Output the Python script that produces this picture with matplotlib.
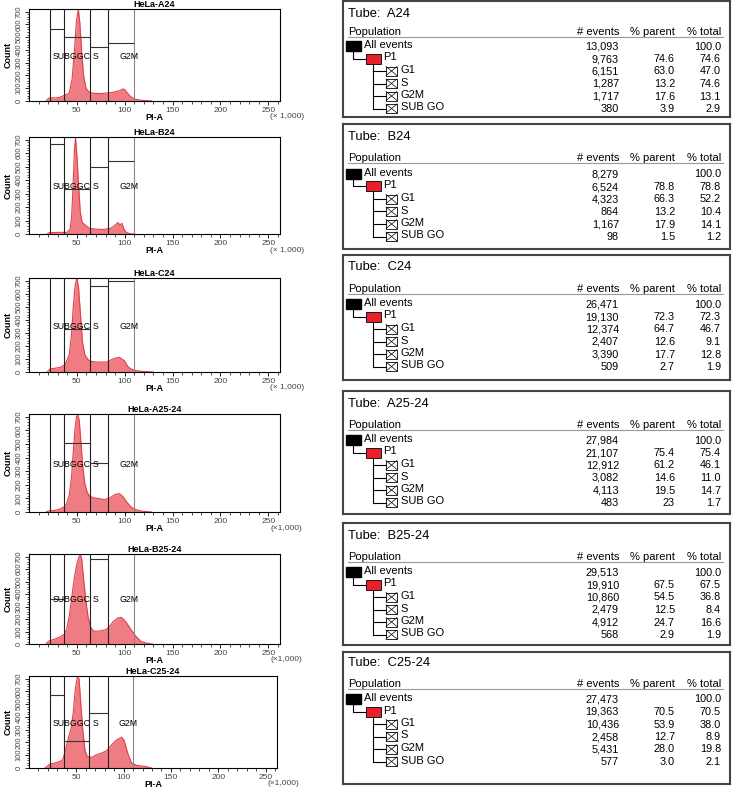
import numpy as np
import matplotlib.pyplot as plt
from matplotlib.patches import Rectangle

plt.rcParams['font.family'] = ['Liberation Sans', 'DejaVu Sans']

# ---- histogram data (PI-A x1000, count) ----
a24_x = [18, 20, 22, 27, 32, 35, 38, 42, 45, 47.5, 49.5, 51.5, 53, 55, 57, 59.5, 63, 68, 75, 80, 85, 90, 95, 98, 100, 103, 106, 110, 115, 120, 128]
a24_y = [0, 18, 25, 24, 28, 38, 48, 62, 170, 400, 620, 720, 620, 380, 200, 100, 68, 60, 58, 62, 65, 72, 82, 95, 88, 60, 35, 15, 8, 4, 0]

b24_x = [19, 21, 30, 40, 43, 44.5, 46, 47.5, 48.6, 50, 52, 53.5, 55.5, 59.5, 63, 70, 78, 85, 88, 91, 93, 95, 97, 99.5, 102, 106, 110]
b24_y = [0, 10, 12, 12, 40, 120, 360, 630, 715, 585, 340, 165, 86, 62, 42, 36, 34, 42, 55, 72, 86, 66, 80, 30, 10, 2, 0]

c24_x = [19, 22, 32.4, 37.6, 42, 44.4, 46.1, 48.2, 50, 51.7, 53.8, 55.8, 58.3, 61.7, 65.2, 72, 80.7, 85.9, 90.4, 94.5, 99.7, 103, 106.5, 111.7, 120, 130]
c24_y = [0, 23, 35, 56, 132, 284, 487, 665, 720, 652, 436, 233, 132, 94, 81, 76, 76, 94, 107, 112, 86, 43, 23, 10, 4, 0]

a2524_x = [18, 20, 27, 32.4, 36.5, 39.3, 42, 44.4, 46.1, 47.9, 49.6, 51, 52.4, 54.1, 55.8, 58.3, 60.7, 63.4, 68.5, 73.7, 78.9, 82.3, 85.8, 90.3, 94.4, 97.9, 102, 106.5, 111.7, 118, 128]
a2524_y = [0, 7, 12, 22, 37, 61, 123, 258, 430, 602, 700, 712, 675, 528, 356, 209, 147, 115, 103, 98, 91, 98, 110, 130, 135, 115, 74, 37, 17, 6, 0]

b2524_x = [18, 20, 27, 32.4, 36.5, 39.3, 42, 44.4, 46.1, 48.2, 50.2, 52.4, 53.7, 55.1, 57.1, 59.2, 61.6, 64, 66.8, 70.2, 75.4, 80.6, 84, 88.2, 92.6, 96.1, 98.5, 102, 106.5, 111.7, 116.9, 122, 129]
b2524_y = [0, 21, 40, 56, 75, 115, 221, 355, 461, 568, 648, 701, 720, 675, 515, 355, 221, 141, 107, 101, 107, 115, 141, 181, 208, 213, 200, 168, 115, 61, 21, 8, 0]

c2524_x = [17, 19, 22.3, 27.6, 32.9, 35.7, 38.1, 41.6, 44.5, 46.9, 49, 51.1, 52.9, 54.6, 56.7, 59.2, 61.6, 66.2, 71.5, 76.8, 82, 87.3, 92.6, 97.9, 100.3, 104.9, 108.4, 113.7, 124.2, 129.5]
c2524_y = [0, 13, 31, 39, 52, 65, 130, 233, 311, 440, 622, 712, 700, 518, 311, 135, 91, 83, 104, 117, 135, 181, 220, 241, 220, 104, 39, 21, 10, 0]

hist_x = [a24_x, b24_x, c24_x, a2524_x, b2524_x, c2524_x]
hist_y = [a24_y, b24_y, c24_y, a2524_y, b2524_y, c2524_y]
titles = ['HeLa-A24', 'HeLa-B24', 'HeLa-C24', 'HeLa-A25-24', 'HeLa-B25-24', 'HeLa-C25-24']
scale_txt = ['(× 1,000)', '(× 1,000)', '(× 1,000)', '(×1,000)', '(×1,000)', '(×1,000)']

# gate boundaries (x1000) and gate top levels: SUBG0, G1, S, G2M
gate_edges = [22, 37, 63.5, 83, 110]
gate_tops = [[565, 500, 420, 455],
             [668, 331, 496, 540],
             [None, 327, 657, 700],
             [None, 508, 357, None],
             [360, None, 680, None],
             [570, 212, 427, None]]

# ---- table data ----
tubes = ['A24', 'B24', 'C24', 'A25-24', 'B25-24', 'C25-24']
pops = ['All events', 'P1', 'G1', 'S', 'G2M', 'SUB GO']
n_events = [['13,093', '9,763', '6,151', '1,287', '1,717', '380'],
            ['8,279', '6,524', '4,323', '864', '1,167', '98'],
            ['26,471', '19,130', '12,374', '2,407', '3,390', '509'],
            ['27,984', '21,107', '12,912', '3,082', '4,113', '483'],
            ['29,513', '19,910', '10,860', '2,479', '4,912', '568'],
            ['27,473', '19,363', '10,436', '2,458', '5,431', '577']]
pct_parent = [['', '74.6', '63.0', '13.2', '17.6', '3.9'],
              ['', '78.8', '66.3', '13.2', '17.9', '1.5'],
              ['', '72.3', '64.7', '12.6', '17.7', '2.7'],
              ['', '75.4', '61.2', '14.6', '19.5', '23'],
              ['', '67.5', '54.5', '12.5', '24.7', '2.9'],
              ['', '70.5', '53.9', '12.7', '28.0', '3.0']]
pct_total = [['100.0', '74.6', '47.0', '74.6', '13.1', '2.9'],
             ['100.0', '78.8', '52.2', '10.4', '14.1', '1.2'],
             ['100.0', '72.3', '46.7', '9.1', '12.8', '1.9'],
             ['100.0', '75.4', '46.1', '11.0', '14.7', '1.7'],
             ['100.0', '67.5', '36.8', '8.4', '16.6', '1.9'],
             ['100.0', '70.5', '38.0', '8.9', '19.8', '2.1']]

W, H = 733, 788
fig = plt.figure(figsize=(W / 100, H / 100), dpi=100)


def px_axes(x0, y0, x1, y1):
    return fig.add_axes([x0 / W, 1 - y1 / H, (x1 - x0) / W, (y1 - y0) / H])


# pixel boxes of histogram axes and tables
hist_boxes = [(29, 9, 280, 101), (29, 137, 280, 234), (29, 278, 280, 372),
              (29, 414, 280, 512), (29, 554, 280, 644), (29, 676, 277, 768)]
table_boxes = [(343, 1, 730, 117), (343, 124, 730, 249), (343, 255, 730, 380),
               (343, 391, 730, 514), (343, 523, 730, 645), (343, 652, 730, 784)]
# vertical text offsets inside each table box: tube title, header, first row
tube_off = [12.7, 13, 12, 13, 13, 11]
head_off = [31, 34, 34, 34, 34, 32]
row_off = [44, 49, 48, 48, 48, 46]

for i in range(6):
    ax = px_axes(*hist_boxes[i])
    ax.fill_between(hist_x[i], hist_y[i], color='#f07c83', lw=0)
    ax.plot(hist_x[i], hist_y[i], color='#e0404c', lw=0.8)
    ax.set_xlim(0, 262.144)
    ax.set_ylim(0, 720)
    # gates
    for j, e in enumerate(gate_edges):
        ax.axvline(e, color='#888888' if j == 4 else '#222222', lw=0.8)
    for j, top in enumerate(gate_tops[i]):
        if top is not None:
            ax.hlines(top, gate_edges[j], gate_edges[j + 1], color='#333333', lw=0.8)
    ax.text(24.5, 352, 'SUBGGC', fontsize=6.3, va='center')
    ax.text(67, 352, 'S', fontsize=6.3, va='center')
    ax.text(95, 352, 'G2M', fontsize=6.3, va='center')

    ax.set_xticks([50, 100, 150, 200, 250])
    ax.set_xticks(np.arange(10, 262, 10), minor=True)
    ax.set_yticks(np.arange(0, 701, 100))
    ax.set_yticks(np.arange(0, 720, 20), minor=True)
    ax.tick_params(axis='both', which='major', labelsize=6, length=3, width=0.6, pad=1.5,
                   labelcolor='#444444')
    ax.tick_params(axis='both', which='minor', length=1.8, width=0.5)
    plt.setp(ax.get_yticklabels(), rotation=90, va='center', fontsize=5.5)
    for s in ax.spines.values():
        s.set_linewidth(0.8)
    ax.set_title(titles[i], fontsize=6.5, fontweight='bold', pad=1.5)
    ax.set_xlabel('PI-A', fontsize=6.5, fontweight='bold', labelpad=-1)
    ax.set_ylabel('Count', fontsize=6.5, fontweight='bold', labelpad=2)
    ax.text(252, -0.17, scale_txt[i], transform=ax.get_xaxis_transform(),
            fontsize=6, color='#444444', va='center', ha='left', clip_on=False)

    # table
    x0, y0, x1, y1 = table_boxes[i]
    tb = px_axes(x0, y0, x1, y1)
    tb.set_xlim(0, x1 - x0)
    tb.set_ylim(y1 - y0, 0)
    tb.set_xticks([])
    tb.set_yticks([])
    for s in tb.spines.values():
        s.set_linewidth(1.5)
        s.set_color('#444444')
    tb.text(5, tube_off[i], 'Tube:  ' + tubes[i], fontsize=9.3, va='center')
    hy = head_off[i]
    tb.text(5, hy, 'Population', fontsize=8, va='center')
    tb.text(276, hy, '# events', fontsize=8, va='center', ha='right')
    tb.text(332, hy, '% parent', fontsize=8, va='center', ha='right')
    tb.text(378, hy, '% total', fontsize=8, va='center', ha='right')
    tb.plot([5, 380], [hy + 5, hy + 5], color='#999999', lw=0.8)
    rows = [row_off[i] + 12.5 * r for r in range(6)]
    # tree
    tb.add_patch(Rectangle((3, rows[0] - 4), 14.5, 10, color='black'))
    tb.plot([9.7, 9.7, 23], [rows[0] + 6, rows[1] + 1, rows[1] + 1], color='black', lw=0.8)
    tb.add_patch(Rectangle((23, rows[1] - 4), 14.5, 10, facecolor='#e8202a', edgecolor='black', lw=0.6))
    tb.plot([30.3, 30.3], [rows[1] + 6, rows[5] + 1], color='black', lw=0.8)
    for r in range(2, 6):
        yc = rows[r] + 1
        tb.plot([30.3, 43], [yc, yc], color='black', lw=0.8)
        tb.add_patch(Rectangle((43, yc - 4.5), 11, 9, facecolor='white', edgecolor='black', lw=0.6))
        tb.plot([43, 54], [yc - 4.5, yc + 4.5], color='black', lw=0.5)
        tb.plot([43, 54], [yc + 4.5, yc - 4.5], color='black', lw=0.5)
    label_x = [21, 40.5, 57.7, 57.7, 57.7, 57.7]
    for r in range(6):
        tb.text(label_x[r], rows[r], pops[r], fontsize=8, va='center')
        tb.text(276, rows[r] + 1.5, n_events[i][r], fontsize=7.8, va='center', ha='right')
        tb.text(332, rows[r] + 1.5, pct_parent[i][r], fontsize=7.8, va='center', ha='right')
        tb.text(378, rows[r] + 1.5, pct_total[i][r], fontsize=7.8, va='center', ha='right')

fig.savefig('out.png', dpi=100)
